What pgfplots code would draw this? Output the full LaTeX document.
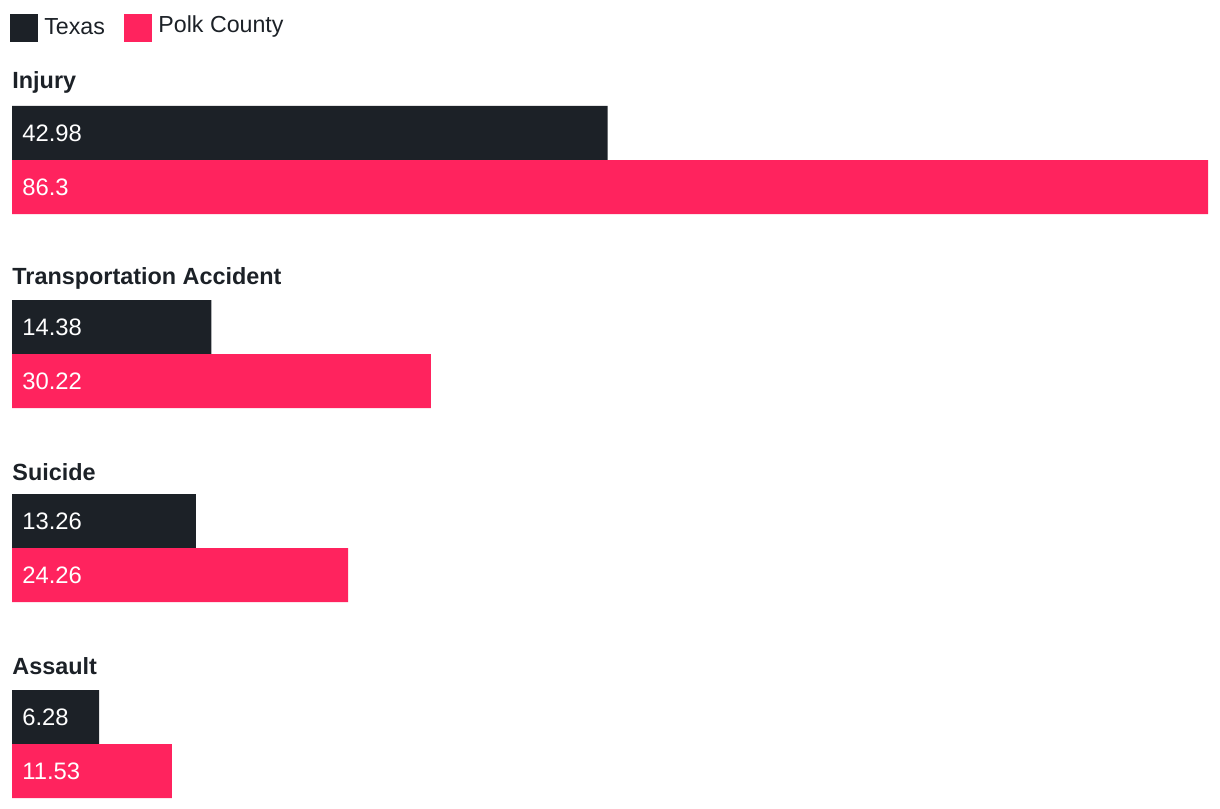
\documentclass[border=0pt]{standalone}
\usepackage{fontspec}
\setmainfont{Liberation Sans}
\usepackage{pgfplots}
\pgfplotsset{compat=1.18}
\definecolor{texas}{RGB}{28,33,39}
\definecolor{polk}{RGB}{255,35,94}
\begin{document}
\begin{tikzpicture}
\begin{axis}[
  scale only axis,
  width=610pt, height=404pt,
  xmin=-0.8659, xmax=87.166,
  ymin=0, ymax=808, y dir=reverse,
  hide axis, clip=false,
]
% keep the whole frame in the bounding box
\path (rel axis cs:0,0) rectangle (rel axis cs:1,1);
% y positions are in pixels of the 1220x808 frame
\addplot[xbar, bar width=27pt, bar shift=0pt, fill=texas, draw=none] coordinates {(42.98,133) (14.38,327) (13.26,521) (6.28,717)};
\addplot[xbar, bar width=27pt, bar shift=0pt, fill=polk, draw=none] coordinates {(86.3,187) (30.22,381) (24.26,575) (11.53,771)};
% value labels inside the bars
\addplot[only marks, mark=none, nodes near coords, point meta=explicit symbolic,
  every node near coord/.append style={anchor=west, xshift=5pt, font=\fontsize{11.9}{14}\selectfont, text=white, inner sep=0pt}]
  coordinates {(0,133)[42.98] (0,327)[14.38] (0,521)[13.26] (0,717)[6.28]
               (0,187)[86.3] (0,381)[30.22] (0,575)[24.26] (0,771)[11.53]};
% category labels
\foreach \lab/\yy in {Injury/82, Transportation Accident/278, Suicide/472, Assault/666}{
  \edef\tmp{\noexpand\node[anchor=west, inner sep=0pt, font=\noexpand\fontsize{11.7}{14}\noexpand\selectfont\noexpand\bfseries, text=texas] at (axis cs:0,\yy) {\lab};}\tmp
}
% legend
\fill[texas] (axis cs:-0.145,14) rectangle (axis cs:1.876,42);
\node[anchor=west, inner sep=0pt, font=\fontsize{11.6}{14}\selectfont, text=texas] at (axis cs:2.3,27) {Texas};
\fill[polk] (axis cs:8.08,14) rectangle (axis cs:10.1,42);
\node[anchor=west, inner sep=0pt, font=\fontsize{11.6}{14}\selectfont, text=texas] at (axis cs:10.54,27) {Polk County};
\end{axis}
\end{tikzpicture}
\end{document}
